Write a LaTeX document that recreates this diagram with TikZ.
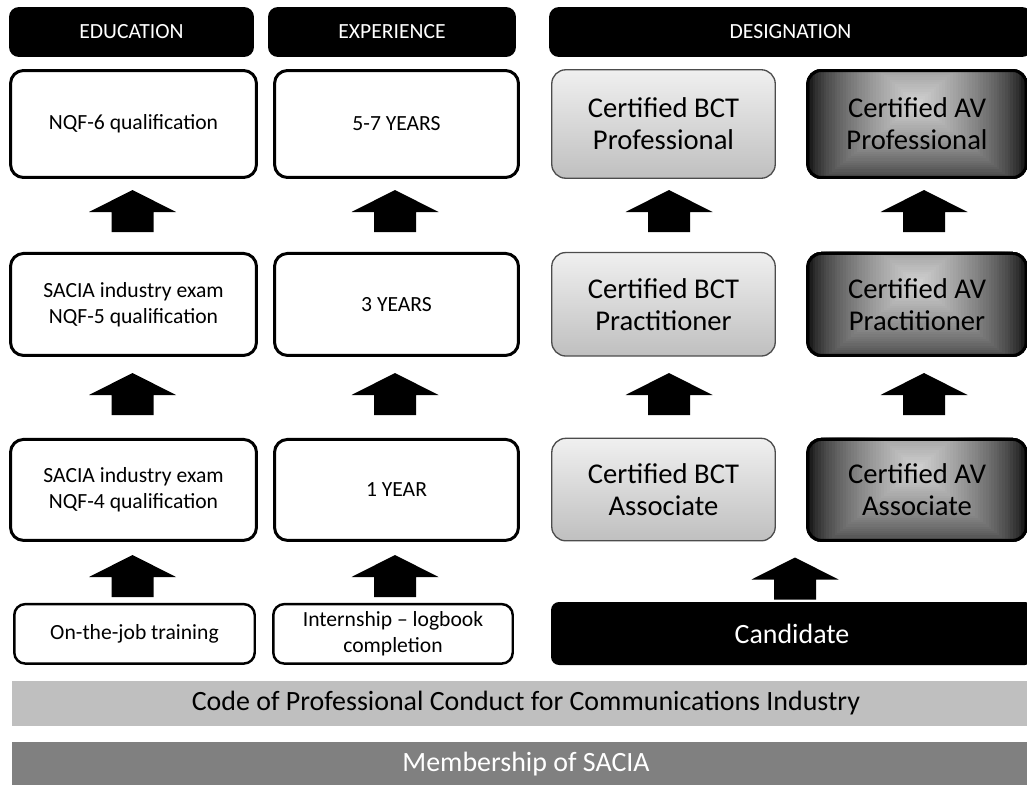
\documentclass[tikz,border=0pt]{standalone}
\usepackage{fontspec}
\setmainfont{Carlito}
\usepackage{tikz}
\usetikzlibrary{positioning,backgrounds}

\newcommand{\fsmall}{\fontsize{12.3pt}{14.8pt}\selectfont}
\newcommand{\fbig}{\fontsize{16.3pt}{18.3pt}\selectfont}
\newcommand{\fbar}{\fontsize{15.9pt}{18pt}\selectfont}

\definecolor{codegray}{gray}{0.75}
\definecolor{membergray}{gray}{0.5}

% rectangular glow behind an AV box: nested rectangles closing in on a point near the top
\newcommand{\avglow}[1]{%
  \begin{scope}
    \clip[rounded corners=0.31cm] (#1.south west) rectangle (#1.north east);
    \begin{scope}[shift={(#1.center)}, x=2.2cm, y=1.04cm]
      \foreach \k in {0,...,39} {
        \pgfmathsetmacro{\t}{\k/40}
        \pgfmathsetmacro{\g}{82*((\k+0.5)/40)^0.6}
        \fill[white!\g!black] (-1+\t,-1.3+1.7*\t) rectangle (1-\t,2.2-1.8*\t);
      }
    \end{scope}
  \end{scope}}

\tikzset{
  heading/.style={fill=black, text=white, rounded corners=0.2cm, inner sep=0pt, minimum height=1cm, font=\fsmall},
  whitebox/.style={draw=black, line width=1.7pt, fill=white, rounded corners=0.26cm, inner sep=0pt, align=center, font=\fsmall},
  lowbox/.style={whitebox, line width=1.4pt, rounded corners=0.22cm, minimum height=1.19cm},
  bctbox/.style={draw=black!70, line width=0.75pt, top color=black!6, bottom color=black!25, rounded corners=0.28cm, inner sep=0pt, align=center, minimum width=4.47cm, font=\fbig},
  avbox/.style={draw=black, line width=1.7pt, rounded corners=0.28cm, inner sep=0pt, align=center, minimum width=4.38cm, font=\fbig},
  candbox/.style={fill=black, text=white, rounded corners=0.16cm, inner sep=0pt, font=\fbar},
  bar/.style={inner sep=0pt, minimum width=20.56cm, font=\fbar},
}

% block arrow pointing up, centred on a coordinate
\newcommand{\upblock}[1]{\fill[black, shift={(#1)}] (0,-21) -- (43.5,1) -- (21,1) -- (21,21) -- (-21,21) -- (-21,1) -- (-43.5,1) -- cycle;}

\begin{document}
\begin{tikzpicture}[x=0.02cm, y=-0.02cm]
  \useasboundingbox (0,0) rectangle (1027,784);
  \clip (0,0) rectangle (1027,784);

  % headings
  \node (hEdu) [heading, minimum width=4.90cm] at (131.5,32) {EDUCATION};
  \node (hExp) [heading, minimum width=4.96cm] at (392,32) {EXPERIENCE};
  \node (hDes) [heading, minimum width=9.66cm] at (790.5,32) {DESIGNATION};

  % education
  \node (eduA) [whitebox, minimum width=4.92cm, minimum height=2.14cm] at (133.5,124) {NQF-6 qualification};
  \node (eduB) [whitebox, minimum width=4.92cm, minimum height=2.04cm, below=1.46cm of eduA] {SACIA industry exam\\NQF-5 qualification};
  \node (eduC) [whitebox, minimum width=4.92cm, minimum height=2.02cm, below=1.62cm of eduB] {SACIA industry exam\\NQF-4 qualification};
  \node (ojt) [lowbox, minimum width=4.81cm, below=1.22cm of eduC, xshift=0.02cm] {On-the-job training};

  % experience
  \node (expA) [whitebox, minimum width=4.88cm, minimum height=2.14cm] at (396.5,124) {5-7 YEARS};
  \node (expB) [whitebox, minimum width=4.88cm, minimum height=2.04cm, below=1.46cm of expA] {3 YEARS};
  \node (expC) [whitebox, minimum width=4.88cm, minimum height=2.02cm, below=1.62cm of expB] {1 YEAR};
  \node (intern) [lowbox, minimum width=4.79cm, below=1.22cm of expC, xshift=-0.07cm] {Internship -- logbook\\completion};

  % designations
  \node (bctA) [bctbox, minimum height=2.17cm] at (663.5,124) {Certified BCT\\Professional};
  \node (bctB) [bctbox, minimum height=2.07cm, below=1.46cm of bctA] {Certified BCT\\Practitioner};
  \node (bctC) [bctbox, minimum height=2.05cm, below=1.62cm of bctB] {Certified BCT\\Associate};
  \node (avA) [avbox, minimum height=2.14cm] at (917,124) {Certified AV\\Professional};
  \node (avB) [avbox, minimum height=2.04cm, below=1.46cm of avA] {Certified AV\\Practitioner};
  \node (avC) [avbox, minimum height=2.02cm, below=1.62cm of avB] {Certified AV\\Associate};
  \node (cand) [candbox, minimum width=9.64cm, minimum height=1.26cm] at (792,633.5) {Candidate};

  \begin{scope}[on background layer]
    \avglow{avA} \avglow{avB} \avglow{avC}
  \end{scope}

  % base bars
  \node (code) [bar, fill=codegray, minimum height=0.9cm] at (526,703.5) {Code of Professional Conduct for Communications Industry};
  \node (member) [bar, fill=membergray, text=white, minimum height=0.88cm] at (526,764) {Membership of SACIA};

  % arrows
  \coordinate (upEduA) at (132.5,211);
  \coordinate (upExpA) at (395,211);
  \coordinate (upBctA) at (669,211);
  \coordinate (upAvA) at (924,211);
  \coordinate (upEduB) at (132.5,394);
  \coordinate (upExpB) at (395,394);
  \coordinate (upBctB) at (669,394);
  \coordinate (upAvB) at (924,394);
  \coordinate (upEduC) at (132.5,576);
  \coordinate (upExpC) at (395,576);
  \coordinate (upCand) at (795,578.5);
  \upblock{upEduA} \upblock{upExpA} \upblock{upBctA} \upblock{upAvA}
  \upblock{upEduB} \upblock{upExpB} \upblock{upBctB} \upblock{upAvB}
  \upblock{upEduC} \upblock{upExpC} \upblock{upCand}
\end{tikzpicture}
\end{document}
